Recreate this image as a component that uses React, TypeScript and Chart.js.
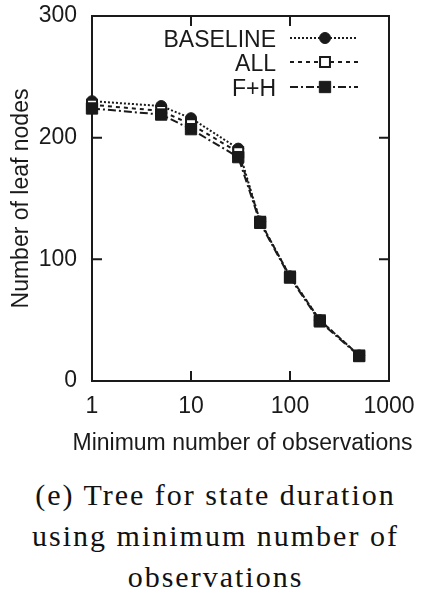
import React, { useEffect, useRef } from "react";
import { Chart, registerables } from "chart.js";
import { drawPoint } from "chart.js/helpers";

Chart.register(...registerables);

// ---- data ----
const xValues = [1, 5, 10, 30, 50, 100, 200, 500];
const baselineValues = [230, 226, 216, 191, 131, 86, 50, 21];
const allValues = [227, 222, 211, 188, 131, 86, 50, 21];
const fhValues = [224, 219, 207, 184, 130, 85, 49, 20.5];
const seriesNames = ["BASELINE", "ALL", "F+H"];
const xTickValues = [1, 10, 100, 1000];
const yTickValues = [0, 100, 200, 300];
const xTitle = "Minimum number of observations";
const yTitle = "Number of leaf nodes";
const captionLines = [
  "(e) Tree for state duration",
  "using minimum number of",
  "observations",
];

const INK = "#1a1a1a";
const SANS = "'Liberation Sans', Arial, Helvetica, sans-serif";

const toPoints = (ys: number[]) => xValues.map((x, i) => ({ x, y: ys[i] }));

const framePlugin = {
  id: "frame",
  beforeDatasetsDraw(chart: any) {
    const { ctx, chartArea } = chart;
    const { left, right, top, bottom } = chartArea;
    const xs = chart.scales.x;
    const ys = chart.scales.y;
    const tl = 10;
    ctx.save();
    ctx.strokeStyle = INK;
    ctx.lineWidth = 2;
    ctx.setLineDash([]);
    ctx.strokeRect(left, top, right - left, bottom - top);
    ctx.beginPath();
    xTickValues.forEach((v) => {
      const px = xs.getPixelForValue(v);
      ctx.moveTo(px, bottom);
      ctx.lineTo(px, bottom - tl);
      ctx.moveTo(px, top);
      ctx.lineTo(px, top + tl);
    });
    yTickValues.forEach((v) => {
      const py = ys.getPixelForValue(v);
      ctx.moveTo(left, py);
      ctx.lineTo(left + tl, py);
      ctx.moveTo(right, py);
      ctx.lineTo(right - tl, py);
    });
    ctx.stroke();
    // x-axis title (drawn here so it is not squeezed to the axis width)
    ctx.font = `23px ${SANS}`;
    ctx.fillStyle = INK;
    ctx.textAlign = "center";
    ctx.textBaseline = "alphabetic";
    ctx.fillText(xTitle, (left + right) / 2 + 2, 449.5);
    ctx.restore();
  },
};

const legendPlugin = {
  id: "keyLegend",
  afterDatasetsDraw(chart: any) {
    const { ctx } = chart;
    const rows = [38, 62, 87];
    const textRight = 276;
    const lineStart = 290;
    const lineEnd = 358;
    const markX = 325;
    ctx.save();
    seriesNames.forEach((name, i) => {
      const ds = chart.data.datasets.find((d: any) => d.label === name);
      const y = rows[i];
      ctx.font = `23px ${SANS}`;
      ctx.fillStyle = INK;
      ctx.textAlign = "right";
      ctx.textBaseline = "alphabetic";
      ctx.fillText(name, textRight, y + 8.5);
      ctx.strokeStyle = ds.borderColor;
      ctx.lineWidth = ds.borderWidth;
      ctx.setLineDash(ds.borderDash || []);
      ctx.beginPath();
      ctx.moveTo(lineStart, y);
      ctx.lineTo(lineEnd, y);
      ctx.stroke();
      ctx.setLineDash([]);
      ctx.fillStyle = ds.pointBackgroundColor;
      ctx.strokeStyle = ds.pointBorderColor;
      ctx.lineWidth = ds.pointBorderWidth;
      drawPoint(
        ctx,
        {
          pointStyle: ds.pointStyle,
          radius: ds.pointRadius,
          rotation: 0,
          borderWidth: ds.pointBorderWidth,
        },
        markX,
        y
      );
    });
    ctx.restore();
  },
};

export default function App() {
  const canvasRef = useRef<HTMLCanvasElement | null>(null);

  useEffect(() => {
    if (!canvasRef.current) return;
    const chart = new Chart(canvasRef.current, {
      type: "line",
      data: {
        datasets: [
          {
            label: seriesNames[0],
            data: toPoints(baselineValues),
            borderColor: INK,
            borderWidth: 2,
            borderDash: [2, 2],
            pointStyle: "circle",
            pointRadius: 5.5,
            pointBackgroundColor: INK,
            pointBorderColor: INK,
            pointBorderWidth: 1,
            order: 2,
            clip: false,
            tension: 0,
          } as any,
          {
            label: seriesNames[1],
            data: toPoints(allValues),
            borderColor: INK,
            borderWidth: 2,
            borderDash: [4, 4],
            pointStyle: "rect",
            pointRadius: 7,
            pointBackgroundColor: "#ffffff",
            pointBorderColor: INK,
            pointBorderWidth: 2,
            order: 1,
            clip: false,
            tension: 0,
          },
          {
            label: seriesNames[2],
            data: toPoints(fhValues),
            borderColor: INK,
            borderWidth: 2,
            borderDash: [8, 3, 2, 3],
            pointStyle: "rect",
            pointRadius: 8,
            pointBackgroundColor: INK,
            pointBorderColor: INK,
            pointBorderWidth: 1,
            order: 0,
            clip: false,
            tension: 0,
          },
        ],
      },
      options: {
        animation: false,
        responsive: false,
        events: [],
        layout: { padding: { top: 16, right: 32, left: 0, bottom: 0 } },
        plugins: {
          legend: { display: false },
          tooltip: { enabled: false },
        },
        scales: {
          x: {
            type: "logarithmic",
            min: 1,
            max: 1000,
            afterBuildTicks: (s: any) => {
              s.ticks = xTickValues.map((v) => ({ value: v }));
            },
            afterFit: (s: any) => {
              s.height = 79;
              s.paddingLeft = 0;
              s.paddingRight = 0;
              s.paddingTop = 0;
              s.paddingBottom = 0;
            },
            ticks: {
              callback: (v: any) => String(v),
              font: { family: SANS, size: 23 },
              color: INK,
              padding: 12,
              maxRotation: 0,
              autoSkip: false,
            },
            grid: { display: false, drawTicks: false },
            border: { display: false },
            title: { display: false },
          },
          y: {
            type: "linear",
            min: 0,
            max: 300,
            afterBuildTicks: (s: any) => {
              s.ticks = yTickValues.map((v) => ({ value: v }));
            },
            afterFit: (s: any) => {
              s.width = 92;
              s.paddingLeft = 0;
              s.paddingRight = 0;
              s.paddingTop = 0;
              s.paddingBottom = 0;
            },
            ticks: {
              font: { family: SANS, size: 23 },
              color: INK,
              padding: 15,
            },
            grid: { display: false, drawTicks: false },
            border: { display: false },
            title: {
              display: true,
              text: yTitle,
              font: { family: SANS, size: 23 },
              color: INK,
              padding: { top: 8, bottom: 0 },
            },
          },
        },
      },
      plugins: [framePlugin, legendPlugin],
    });
    return () => chart.destroy();
  }, []);

  return (
    <div
      style={{
        position: "absolute",
        left: 0,
        top: 0,
        width: 421,
        height: 606,
        background: "#ffffff",
        overflow: "hidden",
      }}
    >
      <canvas
        ref={canvasRef}
        width={421}
        height={460}
        style={{ display: "block", position: "absolute", left: 0, top: 0 }}
      />
      <div
        style={{
          position: "absolute",
          left: 0,
          top: 474,
          width: 421,
          paddingLeft: 10,
          boxSizing: "border-box",
          textAlign: "center",
          fontFamily: "'Liberation Serif', 'Times New Roman', serif",
          fontSize: 30,
          lineHeight: "41px",
          letterSpacing: "2px",
          color: "#111",
        }}
      >
        {captionLines.map((l, i) => (
          <div key={i} style={{ whiteSpace: "nowrap" }}>
            {l}
          </div>
        ))}
      </div>
    </div>
  );
}
